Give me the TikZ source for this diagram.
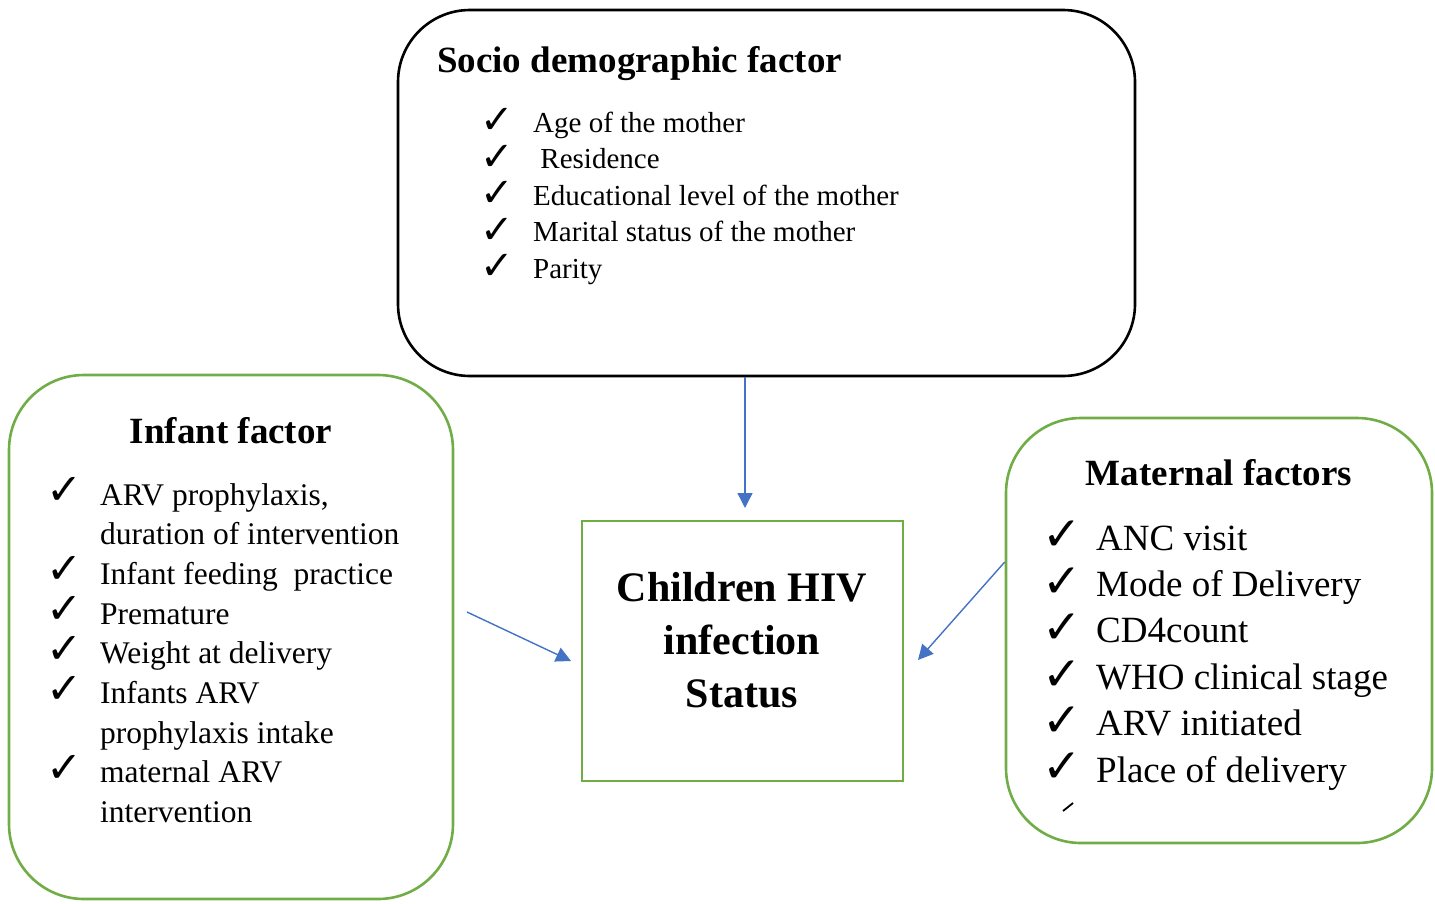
\documentclass[tikz,border=0pt]{standalone}
\usepackage{fontspec}
\setmainfont{Liberation Serif}
\newfontfamily\symf{DejaVu Sans}
\usetikzlibrary{arrows.meta}
\definecolor{grn}{HTML}{70AD47}
\definecolor{blu}{HTML}{4472C4}
\begin{document}
\begin{tikzpicture}[x=1pt,y=-1pt,
  gframe/.style={draw=grn,line width=2.6pt,rounded corners=75pt,inner sep=0pt},
  bframe/.style={draw=black,line width=2.6pt,rounded corners=72pt,inner sep=0pt},
  cframe/.style={draw=grn,line width=2.6pt,inner sep=0pt},
  item/.style={anchor=base west,inner sep=0pt},
  chk/.style={inner sep=0pt,font=\symf\fontsize{#1}{#1}\selectfont},
  title/.style={inner sep=0pt,font=\bfseries\fontsize{37}{44}\selectfont},
  arr/.style={draw=blu,line width=1.4pt,-{Triangle[width=15pt,length=15pt]}}
]
\useasboundingbox (0,0) rectangle (1435,903);
% boxes
\node[bframe,minimum width=737pt,minimum height=366pt] (top) at (766.5,193) {};
\node[gframe,minimum width=444pt,minimum height=524pt] (left) at (231,637) {};
\node[gframe,minimum width=426pt,minimum height=425pt] (right) at (1219,630.5) {};
\node[cframe,minimum width=321pt,minimum height=260pt] (center) at (742.5,651) {};
% titles
\node[title,anchor=base west] (ttop) at (437,72) {Socio demographic factor};
\node[title,anchor=base] (tleft) at (231,443) {Infant factor};
\node[title,anchor=base] (tright) at (1219,485) {Maternal factors};
\node[align=center,inner sep=0pt,font=\bfseries\fontsize{42}{53}\selectfont] (ctext) at (742,640) {Children HIV\\infection\\Status};
% top list
\begin{scope}[every node/.append style={font=\fontsize{29}{36}\selectfont}]
\foreach \t [count=\i] in {Age of the mother,{\ Residence},Educational level of the mother,Marital status of the mother,Parity}{
  \pgfmathsetmacro\yb{132+36.5*(\i-1)}
  \node[chk=40] (tc\i) at (497,\yb-11) {✓};
  \node[item] (tt\i) at (533,\yb) {\t};
}
\end{scope}
% left list
\begin{scope}[every node/.append style={font=\fontsize{31.5}{40}\selectfont}]
\foreach \t/\c [count=\i] in {{ARV prophylaxis,}/1,duration of intervention/0,Infant feeding\ \ practice/1,Premature/1,Weight at delivery/1,Infants ARV/1,prophylaxis intake/0,maternal ARV/1,intervention/0}{
  \pgfmathsetmacro\yb{505+39.7*(\i-1)}
  \ifnum\c=1 \node[chk=43] (lc\i) at (65,\yb-14) {✓};\fi
  \node[item] (lt\i) at (100,\yb) {\t};
}
\end{scope}
% right list
\begin{scope}[every node/.append style={font=\fontsize{37}{46}\selectfont}]
\foreach \t [count=\i] in {ANC visit,Mode of Delivery,CD4count,WHO clinical stage,ARV initiated,Place of delivery}{
  \pgfmathsetmacro\yb{550+46.4*(\i-1)}
  \node[chk=47] (rc\i) at (1062,\yb-14) {✓};
  \node[item] (rt\i) at (1096,\yb) {\t};
}
\end{scope}
\coordinate (f1) at (1063,811);
\coordinate (f2) at (1073,803);
\draw[line width=1.8pt] (f1) -- (f2);
% arrows
\coordinate (a1s) at (top.south -| 745,0);
\coordinate (a1e) at (745,508);
\coordinate (a2s) at (467,612);
\coordinate (a2e) at (571,661);
\coordinate (a3s) at (right.west |- 0,562);
\coordinate (a3e) at (918,660);
\draw[arr] (a1s) -- (a1e);
\draw[arr] (a2s) -- (a2e);
\draw[arr] (a3s) -- (a3e);
\end{tikzpicture}
\end{document}
